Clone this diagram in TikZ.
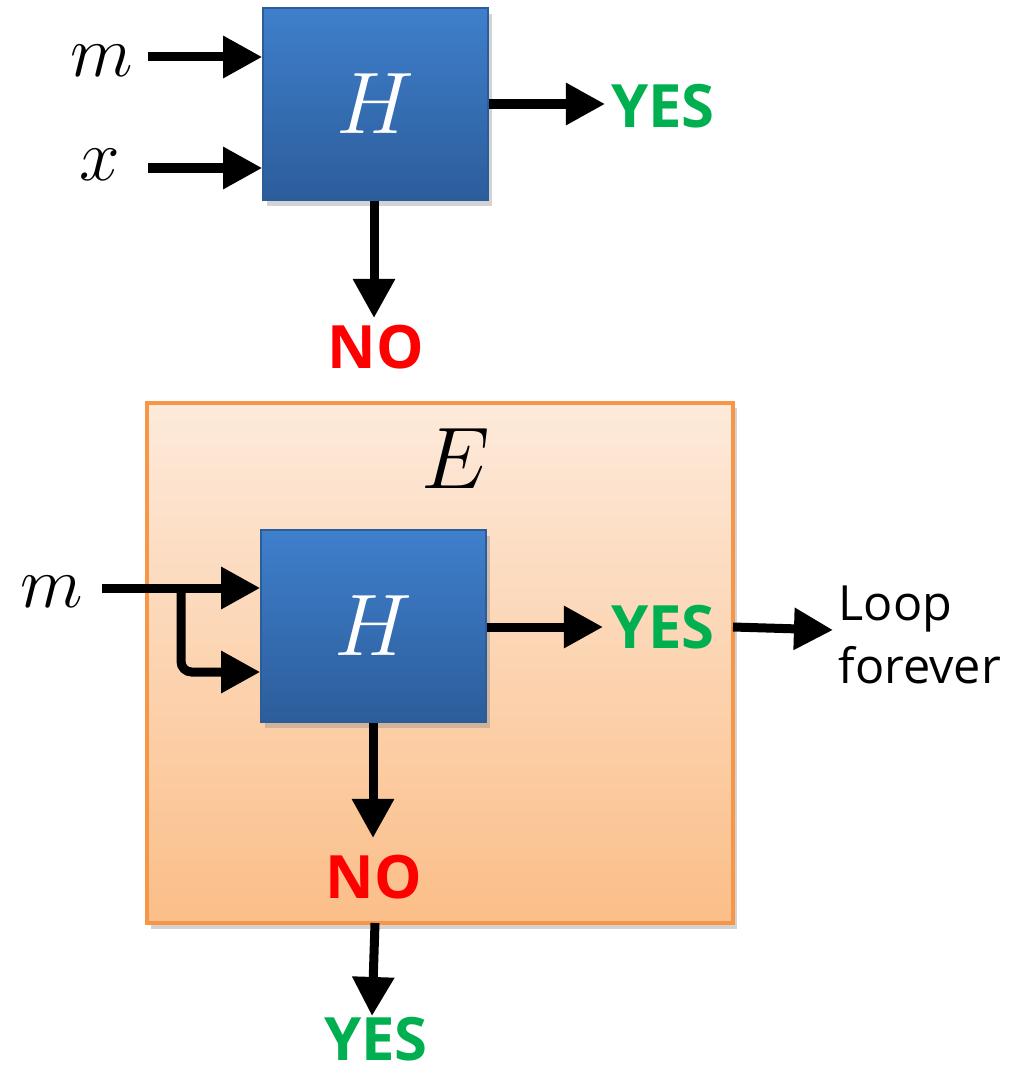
\documentclass[tikz,border=0pt]{standalone}
\usepackage{fontspec}
\setsansfont{Open Sans}
\usetikzlibrary{arrows.meta,shadows}
\definecolor{yesgreen}{RGB}{0,176,80}
\definecolor{nored}{RGB}{255,0,0}
\definecolor{bluetop}{RGB}{63,127,204}
\definecolor{bluebot}{RGB}{44,93,155}
\definecolor{ortop}{RGB}{253,234,219}
\definecolor{orbot}{RGB}{251,190,136}
\definecolor{orline}{RGB}{247,150,70}
\begin{document}
\begin{tikzpicture}[x=0.01cm,y=-0.01cm,
  arr/.style={line width=0.09cm,-{Triangle[length=0.39cm,width=0.40cm]}},
  hbox/.style={draw=bluebot,line width=0.4pt,top color=bluetop,bottom color=bluebot,
    minimum width=2.25cm,minimum height=1.92cm,inner sep=0pt,
    drop shadow={opacity=0.35,shadow xshift=1.2pt,shadow yshift=-1.6pt},
    text=white,font=\fontsize{23}{23}\selectfont},
  ebox/.style={draw=orline,line width=1.2pt,top color=ortop,bottom color=orbot,
    minimum width=5.86cm,minimum height=5.20cm,inner sep=0pt,
    drop shadow={opacity=0.35,shadow xshift=1.2pt,shadow yshift=-1.6pt}},
  yes/.style={text=yesgreen,font=\sffamily\bfseries\fontsize{17}{17}\selectfont,inner sep=0pt,anchor=base},
  no/.style={text=nored,font=\sffamily\bfseries\fontsize{17}{17}\selectfont,inner sep=0pt,anchor=base},
  var/.style={font=\fontsize{20}{20}\selectfont,inner sep=0pt,anchor=base}
]
\useasboundingbox (0,0) rectangle (1016,1073);

% ---------- top ----------
\node[hbox] (H1) at (375.5,104) {$H$};
\node[var] (m1) at (102,77) {$m$};
\node[var] (x1) at (100,180) {$x$};
\node[yes] (yes1) at (663,127) {YES};
\node[no] (no1) at (376,368) {NO};

\coordinate (m1s) at (148,57);
\coordinate (x1s) at (148,168);
\coordinate (y1e) at (605,104);
\coordinate (n1e) at (374,318);
\draw[arr] (m1s) -- (m1s -| H1.west);
\draw[arr] (x1s) -- (x1s -| H1.west);
\draw[arr] (H1.east |- y1e) -- (y1e);
\draw[arr] (H1.south -| n1e) -- (n1e);

% ---------- bottom ----------
\node[ebox] (E) at (440,663) {};
\node[font=\fontsize{27}{27}\selectfont,inner sep=0pt,anchor=base] (Elab) at (456,488) {$E$};
\node[hbox] (H2) at (373.5,626) {$H$};
\node[var] (m2) at (52,607) {$m$};
\node[yes] (yes2) at (663,648) {YES};
\node[no] (no2) at (374,898) {NO};
\node[yes] (yes3) at (376,1060) {YES};
\node[font=\sffamily\fontsize{13.8}{17.9}\selectfont,align=left,anchor=base west,inner sep=0pt] (loop) at (838,683) {Loop\\forever};

\coordinate (m2s) at (102,588);
\coordinate (br) at (181,588);
\coordinate (y2e) at (603,627);
\coordinate (y2s) at (733,627);
\coordinate (lpe) at (833,630);
\coordinate (n2e) at (373,838);
\coordinate (y3s) at (375,923);
\coordinate (y3e) at (372,1016);
\draw[arr] (m2s) -- (m2s -| H2.west);
\draw[arr,rounded corners=3pt] (br) -- (181,672) -- (H2.west |- 0,672);
\draw[arr] (H2.east |- y2e) -- (y2e);
\draw[arr] (y2s) -- (lpe);
\draw[arr] (H2.south -| n2e) -- (n2e);
\draw[arr] (y3s) -- (y3e);
\end{tikzpicture}
\end{document}
